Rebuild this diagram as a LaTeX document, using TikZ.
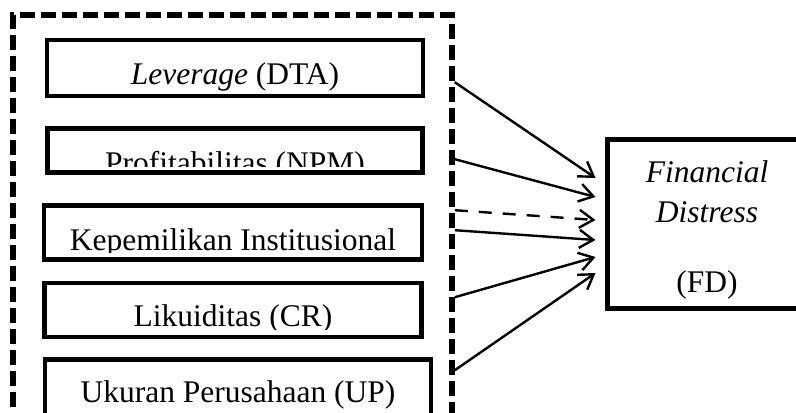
\documentclass[tikz,border=0pt]{standalone}
\usepackage{fontspec}
\setmainfont{Liberation Serif}
\usetikzlibrary{positioning, arrows.meta}
\tikzset{
  varbox/.style={draw, line width=2.3pt, inner sep=0pt},
  vartext/.style={font=\fontsize{15.75}{20}\selectfont, inner sep=0pt},
  effect/.style={-{Straight Barb[length=7pt, width=9pt]}, line width=1.2pt},
}
\newcommand{\varnode}[5]{\node[varbox, #3] (#1) {};
\begin{scope}
\clip ([yshift=#5]#1.south west) rectangle (#1.north east);
\node[vartext, anchor=base] at ([yshift=#4]#1.south) {#2};
\end{scope}}
\newcommand{\varedge}[3]{\draw [effect, #3] (#1) -- (#2);}

\begin{document}
\begin{tikzpicture}[x=0.5pt, y=-0.5pt]
\useasboundingbox (0,0) rectangle (796,412);
\clip (0,0) rectangle (796,412);

% dashed frame round the independent variables
\node[draw, line width=2.8pt, dash pattern=on 7.5pt off 3pt, minimum width=219.5pt, minimum height=212.5pt] (grp) at (232.5,227.5) {};

\varnode{lev}{\textit{Leverage} (DTA)}{minimum width=188pt, minimum height=28pt, at={(235,68)}}{7pt}{1pt};
\varnode{pro}{Profitabilitas (NPM)}{minimum width=187.5pt, minimum height=22pt, below=14pt of lev}{0.5pt}{4pt};
\varnode{kep}{Kepemilikan Institusional}{minimum width=189pt, minimum height=27pt, below=14pt of pro, xshift=-1pt}{5.5pt}{4.5pt};
\varnode{lik}{Likuiditas (CR)}{minimum width=188.5pt, minimum height=27pt, below=9.5pt of kep}{6.5pt}{5pt};
\varnode{uku}{Ukuran Perusahaan (UP)}{minimum width=193pt, minimum height=28.5pt, below=9pt of lik, xshift=2.5pt}{8pt}{1pt};

\node[varbox, line width=2.5pt, minimum width=100pt, minimum height=84.5pt] (fd) at (707,223.5) {};
\node[vartext, align=center] (fdtext) at ([yshift=-3pt]fd.center) {\textit{Financial}\\\textit{Distress}\\[15pt](FD)};

\coordinate (s1) at ([yshift=-35pt]grp.north east);
\coordinate (s2) at ([yshift=-73.5pt]grp.north east);
\coordinate (s3) at ([yshift=-99pt]grp.north east);
\coordinate (s4) at ([yshift=-109pt]grp.north east);
\coordinate (s5) at ([yshift=-142.5pt]grp.north east);
\coordinate (s6) at ([yshift=-179pt]grp.north east);

\coordinate (t1) at ([xshift=-4.5pt, yshift=22.75pt]fd.west);
\coordinate (t2) at ([xshift=-4.5pt, yshift=13.25pt]fd.west);
\coordinate (t3) at ([xshift=-4.5pt, yshift=1.75pt]fd.west);
\coordinate (t4) at ([xshift=-4.5pt, yshift=-8.25pt]fd.west);
\coordinate (t5) at ([xshift=-4.5pt, yshift=-16.75pt]fd.west);
\coordinate (t6) at ([xshift=-4.5pt, yshift=-24.75pt]fd.west);

\varedge{s1}{t1}{};
\varedge{s2}{t2}{};
\varedge{s3}{t3}{dash pattern=on 6.5pt off 5.5pt};
\varedge{s4}{t4}{};
\varedge{s5}{t5}{};
\varedge{s6}{t6}{};
\end{tikzpicture}
\end{document}
